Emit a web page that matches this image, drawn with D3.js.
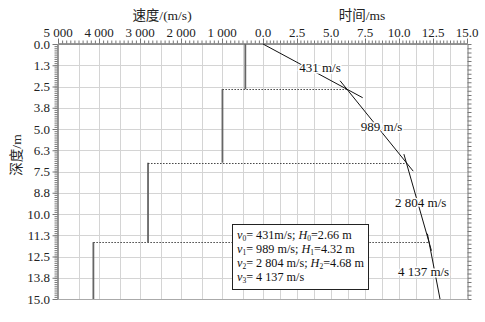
<!DOCTYPE html>
<html>
<head>
<meta charset="utf-8">
<script src="https://cdn.jsdelivr.net/npm/d3@7"></script>
<style>
  body { margin: 0; background: #fff; }
  svg { display: block; }
</style>
</head>
<body>
<div id="chart"></div>
<script>
// layer model
const depthBounds = [0, 2.66, 6.98, 11.66, 15];
const velocities = [431, 989, 2804, 4137];
const thicknesses = [2.66, 4.32, 4.68];

const depthTicks = [0, 1.25, 2.5, 3.75, 5, 6.25, 7.5, 8.75, 10, 11.25, 12.5, 13.75, 15];
const depthTickLabels = ['0.0', '1.3', '2.5', '3.8', '5.0', '6.3', '7.5', '8.8', '10.0', '11.3', '12.5', '13.8', '15.0'];
const speedTicks = [5000, 4000, 3000, 2000, 1000];
const timeTicks = [0, 2.5, 5, 7.5, 10, 12.5, 15];

const width = 485, height = 322;
const plotTop = 44, plotBottom = 299, plotLeft = 58, plotRight = 467, plotMid = 263;
const serif = '"Liberation Serif", "Times New Roman", "DejaVu Serif", serif';
const cjk = '"Liberation Serif", "Noto Sans CJK SC", serif';

const fmt = d3.formatLocale({ decimal: '.', thousands: ' ', grouping: [3], currency: ['', ''] }).format(',');

const svg = d3.select('#chart').append('svg')
  .attr('width', width)
  .attr('height', height)
  .attr('font-family', serif);

const y = d3.scaleLinear().domain([0, 15]).range([plotTop, plotBottom]);
const xv = d3.scaleLinear().domain([5000, 0]).range([plotLeft, plotMid]);
const xt = d3.scaleLinear().domain([0, 15]).range([plotMid, plotRight]);

// grid
const grid = svg.append('g').attr('stroke', '#d4d4d4').attr('stroke-width', 1);
grid.selectAll('.hg').data(depthTicks).enter().append('line')
  .attr('x1', plotLeft).attr('x2', plotRight)
  .attr('y1', d => Math.round(y(d)) + 0.5).attr('y2', d => Math.round(y(d)) + 0.5);
grid.selectAll('.vv').data(d3.range(500, 5000, 500)).enter().append('line')
  .attr('x1', d => Math.round(xv(d)) + 0.5).attr('x2', d => Math.round(xv(d)) + 0.5)
  .attr('y1', plotTop).attr('y2', plotBottom);
grid.selectAll('.vt').data(d3.range(0, 15, 1.25)).enter().append('line')
  .attr('x1', d => Math.round(xt(d)) + 0.5).attr('x2', d => Math.round(xt(d)) + 0.5)
  .attr('y1', plotTop).attr('y2', plotBottom);

// axes (ticks only, outward)
function styleAxis(g) {
  g.selectAll('path').attr('stroke', '#777');
  g.selectAll('line').attr('stroke', '#777');
  g.selectAll('text').remove();
}
svg.append('g').attr('transform', `translate(0,${plotTop - 0.5})`)
  .call(d3.axisTop(xv).tickValues(d3.range(0, 5001, 100)).tickSize(3).tickSizeOuter(0)).call(styleAxis);
svg.append('g').attr('transform', `translate(0,${plotTop - 0.5})`)
  .call(d3.axisTop(xt).tickValues(d3.range(0, 15.01, 0.25)).tickSize(3).tickSizeOuter(0)).call(styleAxis);
svg.append('g').attr('transform', `translate(0,${plotTop - 0.5})`)
  .call(d3.axisTop(xv).tickValues(speedTicks).tickSize(5).tickSizeOuter(0)).call(styleAxis);
svg.append('g').attr('transform', `translate(0,${plotTop - 0.5})`)
  .call(d3.axisTop(xt).tickValues(timeTicks).tickSize(5).tickSizeOuter(0)).call(styleAxis);
svg.append('g').attr('transform', `translate(${plotLeft - 0.5},0)`)
  .call(d3.axisLeft(y).tickValues(d3.range(0, 15.01, 0.125)).tickSize(3).tickSizeOuter(0)).call(styleAxis);
svg.append('g').attr('transform', `translate(${plotLeft - 0.5},0)`)
  .call(d3.axisLeft(y).tickValues(depthTicks).tickSize(5).tickSizeOuter(0)).call(styleAxis);
svg.append('g').attr('transform', `translate(${plotRight + 0.5},0)`)
  .call(d3.axisRight(y).tickValues(d3.range(0, 15.01, 0.25)).tickSize(4).tickSizeOuter(0)).call(styleAxis);
svg.append('line').attr('x1', plotLeft).attr('x2', plotRight + 1)
  .attr('y1', plotBottom + 0.5).attr('y2', plotBottom + 0.5).attr('stroke', '#aaa');

// tick labels
const lbl = svg.append('g').attr('fill', '#222').attr('font-size', 13).attr('font-family', serif);
lbl.selectAll('.ld').data(depthTicks).enter().append('text')
  .attr('x', 50).attr('y', d => y(d) + 4.5)
  .attr('text-anchor', 'end')
  .text((d, i) => depthTickLabels[i]);
lbl.selectAll('.ls').data(speedTicks).enter().append('text')
  .attr('x', d => xv(d)).attr('y', 37)
  .attr('text-anchor', 'middle')
  .text(d => fmt(d));
lbl.selectAll('.lt').data(timeTicks).enter().append('text')
  .attr('x', d => xt(d)).attr('y', 37)
  .attr('text-anchor', 'middle')
  .text(d => d.toFixed(1));

// titles
const ttl = svg.append('g').attr('fill', '#222').attr('font-size', 13.5).attr('font-family', cjk);
ttl.append('text').attr('x', 162).attr('y', 20).attr('text-anchor', 'middle').text('速度/(m/s)');
ttl.append('text').attr('x', 362).attr('y', 20).attr('text-anchor', 'middle').text('时间/ms');
ttl.append('text').attr('transform', 'translate(21,155) rotate(-90)')
  .attr('text-anchor', 'middle').text('深度/m');

// travel time at each boundary
const tb = [0];
velocities.forEach((v, i) => {
  if (i < thicknesses.length) tb.push(tb[i] + thicknesses[i] / v * 1000);
});
const tAt = (i, z) => tb[i] + (z - depthBounds[i]) / velocities[i] * 1000;

// velocity steps
svg.append('g').selectAll('line').data(velocities).enter().append('line')
  .attr('x1', d => xv(d)).attr('x2', d => xv(d))
  .attr('y1', (d, i) => y(depthBounds[i])).attr('y2', (d, i) => y(depthBounds[i + 1]))
  .attr('stroke', '#666').attr('stroke-width', 1.8);

// dotted boundaries from step to time curve
svg.append('g').selectAll('line').data(thicknesses).enter().append('line')
  .attr('x1', (d, i) => xv(velocities[i + 1]))
  .attr('x2', (d, i) => xt(tb[i + 1]))
  .attr('y1', (d, i) => Math.round(y(depthBounds[i + 1])) + 0.5)
  .attr('y2', (d, i) => Math.round(y(depthBounds[i + 1])) + 0.5)
  .attr('stroke', '#444').attr('stroke-width', 1).attr('stroke-dasharray', '1.5,1.5');

// fitted travel-time lines, a bit past each boundary
const ext = 0.5;
svg.append('g').selectAll('line').data(velocities).enter().append('line')
  .attr('x1', (d, i) => xt(tAt(i, Math.max(0, depthBounds[i] - ext))))
  .attr('y1', (d, i) => y(Math.max(0, depthBounds[i] - ext)))
  .attr('x2', (d, i) => xt(tAt(i, Math.min(15, depthBounds[i + 1] + ext))))
  .attr('y2', (d, i) => y(Math.min(15, depthBounds[i + 1] + ext)))
  .attr('stroke', '#111').attr('stroke-width', 1);

// velocity labels on the lines
const offs = [15, 5, 3, -11];
svg.append('g').selectAll('text').data(velocities).enter().append('text')
  .attr('x', (d, i) => xt(tAt(i, (depthBounds[i] + depthBounds[i + 1]) / 2)) + offs[i])
  .attr('y', (d, i) => y((depthBounds[i] + depthBounds[i + 1]) / 2) + 5)
  .attr('text-anchor', 'middle')
  .attr('font-size', 13).attr('fill', '#111').attr('font-family', serif)
  .attr('stroke', '#fff').attr('stroke-width', 3).attr('paint-order', 'stroke')
  .text(d => fmt(d) + ' m/s');

// legend box
const lg = svg.append('g').attr('font-family', serif);
lg.append('rect').attr('x', 232.5).attr('y', 224.5).attr('width', 136).attr('height', 65)
  .attr('fill', '#fff').attr('stroke', '#222').attr('stroke-width', 1);
velocities.forEach((v, i) => {
  const t = lg.append('text').attr('x', 237).attr('y', 238.5 + i * 14)
    .attr('font-size', 12.2).attr('fill', '#111');
  t.append('tspan').attr('font-style', 'italic').text('v');
  t.append('tspan').attr('font-size', 7.5).attr('dy', 2).text(i);
  t.append('tspan').attr('dy', -2).text('= ' + fmt(v) + (i === 0 ? 'm/s' : ' m/s'));
  if (i < thicknesses.length) {
    t.append('tspan').text('; ');
    t.append('tspan').attr('font-style', 'italic').text('H');
    t.append('tspan').attr('font-size', 7.5).attr('dy', 2).text(i);
    t.append('tspan').attr('dy', -2).text('=' + thicknesses[i].toFixed(2) + ' m');
  }
});
</script>
</body>
</html>
